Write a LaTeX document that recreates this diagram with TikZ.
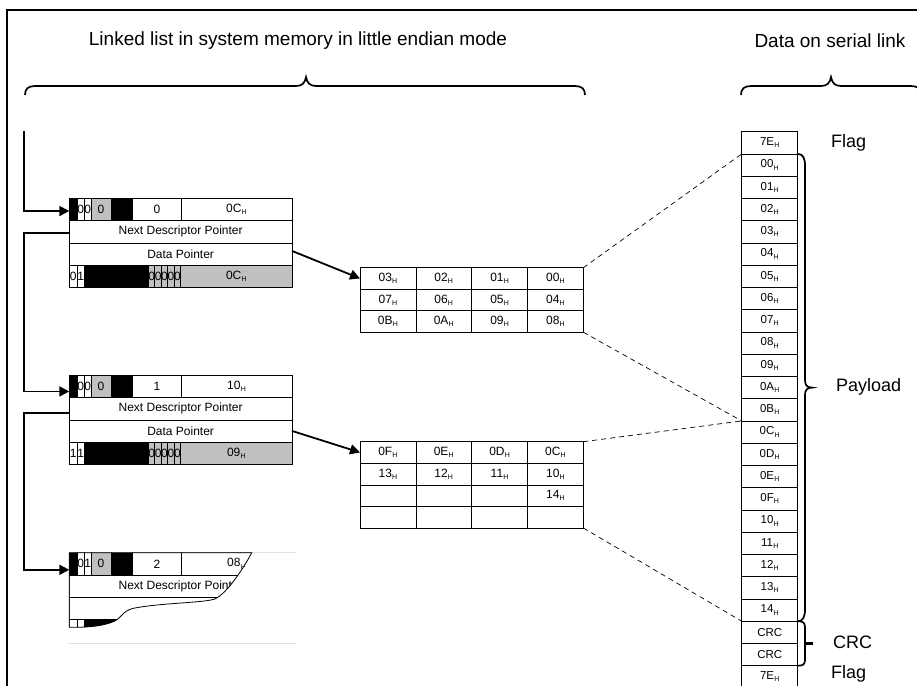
\documentclass[tikz,border=0pt]{standalone}
\usepackage{fontspec}
\setmainfont{Liberation Sans}
\usetikzlibrary{arrows.meta}
\definecolor{cellgray}{RGB}{192,192,192}
\definecolor{faint}{RGB}{225,225,225}
\newcommand\hx[1]{#1\kern0.2pt\raisebox{-2.2pt}{\fontsize{7}{7}\selectfont H}}
\newcommand\cellfont{\fontsize{12}{13}\selectfont}
\newcommand\dptext{Data Pointer}
% descriptor: #1 name, #2 top y, #3 #4 bits, #5 count, #6 length, #7 #8 bits row 4, #9 length row 4
\newcommand\descr[9]{%
  \node[cell,fill=black,minimum width=8pt] (#1-a) at (69.3,#2) {};
  \node[cell,minimum width=7pt] (#1-b) at (77.3,#2) {#3};
  \node[cell,minimum width=6.7pt] (#1-c) at (84.3,#2) {#4};
  \node[cell,fill=cellgray,minimum width=20pt] (#1-d) at (91,#2) {0};
  \node[cell,fill=black,minimum width=21.7pt] (#1-e) at (111,#2) {};
  \node[cell,minimum width=48.3pt] (#1-f) at (132.7,#2) {#5};
  \node[cell,minimum width=111pt] (#1-g) at (181,#2) {#6};
  \node[cell,minimum width=222.7pt] (#1-n) at (69.3,#2+22.25) {Next Descriptor Pointer};
  \node[cell,minimum width=222.7pt] (#1-p) at (69.3,#2+44.5) {\dptext};
  \node[cell,minimum width=8pt] (#1-q) at (69.3,#2+66.75) {#7};
  \node[cell,minimum width=7pt] (#1-r) at (77.3,#2+66.75) {#8};
  \node[cell,fill=black,minimum width=64pt] (#1-s) at (84.3,#2+66.75) {};
  \foreach \k in {0,...,4}
    \node[cell,fill=cellgray,minimum width=6.47pt] (#1-z\k) at (148.3+\k*6.47,#2+66.75) {0};
  \node[cell,fill=cellgray,minimum width=111.35pt] (#1-t) at (180.65,#2+66.75) {#9};
}
\begin{document}
\begin{tikzpicture}[x=1pt,y=-1pt,
  cell/.style={draw=black,line width=0.6pt,minimum height=22.25pt,inner sep=0pt,outer sep=0pt,anchor=north west,font=\cellfont},
  tcell/.style={cell,minimum width=55.83pt,minimum height=21.5pt},
  scell/.style={cell,minimum width=56pt,font=\fontsize{11.5}{13}\selectfont},
  link/.style={line width=1.8pt,-{Triangle[length=10pt,width=10pt]}},
  dashline/.style={line width=0.7pt,dash pattern=on 5pt off 4pt},
  bracepath/.style={line width=1.7pt},
  label/.style={font=\fontsize{18}{20}\selectfont,inner sep=0pt,anchor=west},
  head/.style={font=\fontsize{19}{21}\selectfont,inner sep=0pt}]
\useasboundingbox (0,0) rectangle (917,685);

% frame
\draw[line width=2pt] (7,700) -- (7,10) -- (930,10);

% headers
\node[head] (h1) at (298,41) {Linked list in system memory in little endian mode};
\node[head] (h2) at (830,41) {Data on serial link};
\draw[bracepath] (25,95) .. controls (25,89) and (28,86) .. (35,86) -- (296,86)
  .. controls (302,86) and (305,83) .. (306,77) .. controls (307,83) and (310,86) .. (316,86)
  -- (575,86) .. controls (582,86) and (585,89) .. (585,95);
\draw[bracepath] (741,95) .. controls (741,89) and (744,86) .. (751,86) -- (821,86)
  .. controls (827,86) and (830,83) .. (831,77) .. controls (832,83) and (835,86) .. (841,86)
  -- (911,86) .. controls (918,86) and (921,89) .. (921,95);

% descriptors
\descr{d1}{198.3}{0}{0}{0}{\hx{0C}}{0}{1}{\hx{0C}}
\descr{d2}{375.3}{0}{0}{1}{\hx{10}}{1}{1}{\hx{09}}
% faint edges of the cut-off third descriptor
\draw[faint,line width=0.8pt] (251.7,552.7) -- (296,552.7);
\draw[faint,line width=0.8pt] (69.3,643) -- (296,643);
\begin{scope}
  \clip (69.3,552.7) -- (251.7,552.7) .. controls (247,562) and (228,594) .. (214,599.3)
    .. controls (200,603) and (160,603) .. (133.3,608.3)
    .. controls (122,611) and (122,618) .. (113.3,621.7)
    .. controls (100,627) and (85,627.3) .. (69.3,627.3) -- cycle;
  \renewcommand\dptext{}
  \descr{d3}{552.7}{0}{1}{2}{\hx{08}}{}{}{}
\end{scope}
\draw[line width=0.8pt] (69.3,627.3) -- (69.3,552.7) -- (251.7,552.7) .. controls (247,562) and (228,594) .. (214,599.3)
    .. controls (200,603) and (160,603) .. (133.3,608.3)
    .. controls (122,611) and (122,618) .. (113.3,621.7)
    .. controls (100,627) and (85,627.3) .. (69.3,627.3);

% left chain
\coordinate (start) at (24,131);
\draw[link] (start) |- ([yshift=-1.6pt]d1-a.west);
\draw[link] ([yshift=-1.5pt]d1-n.west) -- ++(-45.3,0) |- ([yshift=-5pt]d2-a.west);
\draw[link] ([yshift=-4pt]d2-n.west) -- ++(-45.3,0) |- ([yshift=-6pt]d3-a.west);

% data buffers
\foreach \row [count=\r] in {{03,02,01,00},{07,06,05,04},{0B,0A,09,08}} {
  \foreach \v [count=\c] in \row {
    \node[tcell] (t1-\r-\c) at (360+\c*55.83-55.83, 267.7+\r*21.5-21.5) {\hx{\v}};
  }
}
\foreach \row [count=\r] in {{0F,0E,0D,0C},{13,12,11,10},{{},{},{},14},{{},{},{},{}}} {
  \foreach \v [count=\c] in \row {
    \node[tcell] (t2-\r-\c) at (360+\c*55.83-55.83, 441.7+\r*21.6-21.6) {\ifx\v\empty\else\hx{\v}\fi};
  }
}
\draw[link] ([yshift=3pt]d1-p.east) -- (t1-1-1.west);
\draw[link] (d2-p.east) -- (t2-1-1.west);

% serial link
\foreach \t [count=\i from 0] in {\hx{7E},\hx{00},\hx{01},\hx{02},\hx{03},\hx{04},\hx{05},\hx{06},\hx{07},\hx{08},\hx{09},\hx{0A},\hx{0B},\hx{0C},\hx{0D},\hx{0E},\hx{0F},\hx{10},\hx{11},\hx{12},\hx{13},\hx{14},CRC,CRC,\hx{7E}} {
  \node[scell] (s\i) at (741.7,131.7+\i*22.25) {\t};
}

% dashed mapping
\draw[dashline] (t1-1-4.north east) -- (s1.north west);
\draw[dashline] (t1-3-4.south east) -- (s13.north west);
\draw[dashline] (t2-1-4.north east) -- (s13.north west);
\draw[dashline] (t2-4-4.south east) -- (s22.north west);

% braces at the serial column
\draw[bracepath] (s1.north east) .. controls (803,154) and (805,158) .. (805,166) -- (805,380)
  .. controls (805,385) and (807,387.6) .. (812,387.6) .. controls (807,387.6) and (805,390) .. (805,395)
  -- (805,609) .. controls (805,617) and (803,621.2) .. (s21.south east);
\draw[bracepath] (s22.north east) .. controls (802,621.2) and (805,622) .. (805,627) -- (805,660)
  .. controls (805,665) and (802,665.7) .. (s23.south east);
\draw[line width=2.4pt] (805,643.5) -- (813,643.5);

\node[label] (flag1) at (831,143) {Flag};
\node[label] (payload) at (836,387) {Payload};
\node[label] (crc) at (833,642) {CRC};
\node[label] (flag2) at (831,674) {Flag};
\end{tikzpicture}
\end{document}
